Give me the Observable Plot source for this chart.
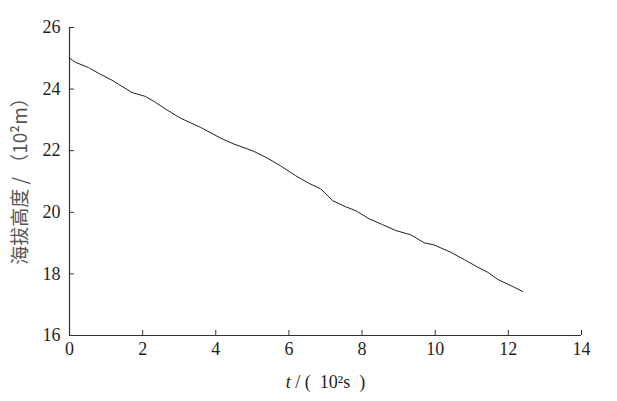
<!DOCTYPE html>
<html><head><meta charset="utf-8">
<script src="https://cdn.jsdelivr.net/npm/d3@7"></script>
<script src="https://cdn.jsdelivr.net/npm/@observablehq/plot@0.6"></script>
<style>
body{margin:0;background:#fff}
#chart svg text{font-family:"Liberation Serif","Times New Roman","DejaVu Serif",serif !important}
#chart svg g.ylab text{font-family:"Noto Sans CJK SC","Noto Sans",sans-serif !important}
</style>
</head><body><div id="chart"></div>
<script>
const timeValues = [0, 0.16, 0.52, 0.8, 1.16, 1.71, 2.08, 2.35, 2.67, 3.03, 3.58, 4.13, 4.49, 5.04, 5.41, 5.77, 6.18, 6.55, 6.87, 7.19, 7.55, 7.83, 8.19, 8.56, 8.92, 9.33, 9.70, 9.97, 10.43, 10.80, 11.16, 11.44, 11.71, 12.07, 12.39];
const altitudeValues = [25.01, 24.87, 24.70, 24.51, 24.29, 23.89, 23.76, 23.57, 23.32, 23.06, 22.76, 22.41, 22.22, 21.98, 21.76, 21.51, 21.19, 20.94, 20.76, 20.38, 20.18, 20.05, 19.79, 19.60, 19.41, 19.27, 19.01, 18.94, 18.70, 18.46, 18.22, 18.05, 17.82, 17.62, 17.43];
const xTicks = [0, 2, 4, 6, 8, 10, 12, 14];
const yTicks = [16, 18, 20, 22, 24, 26];
const xLabelItalic = "t";
const xLabelRest = " / (  10²s  )";
const yLabel = "海拔高度 / （10²m）";

const data = timeValues.map((t, i) => ({t, h: altitudeValues[i]}));
const ink = "#231f20";

const chart = Plot.plot({
  width: 617, height: 401,
  marginLeft: 69, marginRight: 36, marginTop: 27, marginBottom: 66,
  style: {fontSize: "17px", color: ink, background: "#fff"},
  x: {domain: [0, 14]},
  y: {domain: [16, 26]},
  marks: [
    Plot.ruleY([16], {stroke: "#333", strokeWidth: 1.2}),
    Plot.ruleX([0], {stroke: "#333", strokeWidth: 1.2}),
    Plot.axisX({ticks: xTicks, tickSize: -5, tickPadding: 12, label: null, stroke: "#333", strokeOpacity: 1, fill: ink, fontSize: 18}),
    Plot.axisY({ticks: yTicks, tickSize: -5, tickPadding: 14, label: null, stroke: "#333", strokeOpacity: 1, fill: ink, fontSize: 18}),
    Plot.line(data, {x: "t", y: "h", stroke: ink, strokeWidth: 1}),
    Plot.text([yLabel], {frameAnchor: "left", textAnchor: "middle", rotate: -90, dx: -49, dy: -5, fontSize: 19, fill: "#555", className: "ylab"}),
    Plot.text([xLabelItalic + xLabelRest], {frameAnchor: "bottom", dy: 52, fontSize: 18, fill: ink, className: "xlab"})
  ]
});
document.getElementById("chart").appendChild(chart);
// italicize the "t" of the x label
d3.select(chart).selectAll("g.xlab text").each(function () {
  const el = d3.select(this);
  el.text(null);
  el.append("tspan").attr("font-style", "italic").text(xLabelItalic);
  el.append("tspan").text(xLabelRest);
});
</script>
</body></html>
